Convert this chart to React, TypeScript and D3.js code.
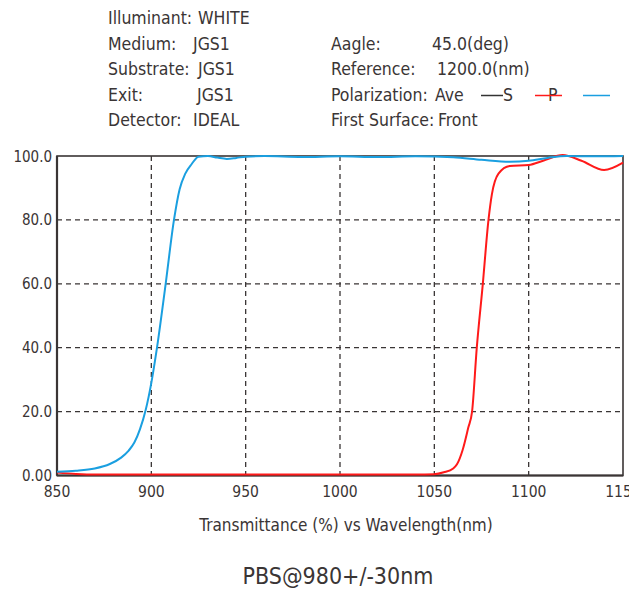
import React from "react";
import * as d3 from "d3";

const xTicks = [850, 900, 950, 1000, 1050, 1100, 1150];
const yTicks = [0, 20, 40, 60, 80, 100];
const yTickLabels = ["0.00", "20.0", "40.0", "60.0", "80.0", "100.0"];

const blueWl = [850, 860, 870, 878, 884, 888, 891, 894, 897, 900, 903, 907.6, 912, 915, 918, 921.4, 925, 930, 935, 940, 945, 950, 960, 980, 1000, 1020, 1040, 1060, 1075, 1090, 1100, 1110, 1120, 1135, 1150];
const blueT = [1.2, 1.5, 2.2, 3.6, 5.6, 7.8, 10.3, 14.5, 20.5, 29, 40, 60, 80, 89.6, 94.5, 97.5, 99.8, 100, 99.5, 99.1, 99.4, 99.8, 100, 99.7, 99.9, 99.7, 99.9, 99.6, 98.8, 98.2, 98.5, 99.4, 100, 99.9, 100];

const redWl = [850, 860, 870, 900, 950, 1000, 1040, 1050, 1055, 1060, 1062, 1065, 1068, 1070, 1072.5, 1075.7, 1078.7, 1080.5, 1084, 1090, 1100, 1108, 1118, 1128, 1140, 1150];
const redT = [0.9, 0.5, 0.3, 0.3, 0.3, 0.3, 0.3, 0.4, 1.0, 2.2, 3.5, 8, 15, 20, 40, 60, 80, 88, 94.5, 96.9, 97.2, 98.6, 100.3, 98.5, 95.6, 97.9];

const headerLeft = [
  ["Illuminant:", "WHITE", 198],
  ["Medium:", "JGS1", 193],
  ["Substrate:", "JGS1", 198],
  ["Exit:", "JGS1", 197],
  ["Detector:", "IDEAL", 193],
];
const headerRight = [
  ["Aagle:", "45.0(deg)", 432],
  ["Reference:", "1200.0(nm)", 437],
  ["Polarization:", "Ave", 435],
  ["First Surface:", "Front", 438],
];

const FONT = "'Liberation Sans Narrow', 'DejaVu Sans Condensed', 'Roboto', sans-serif";
const TXT = "#3a3535";

export default function App() {
  const W = 629, H = 595;
  const left = 57, right = 623, top = 156, bottom = 475.5;
  const x = d3.scaleLinear().domain([850, 1150]).range([left, right]);
  const y = d3.scaleLinear().domain([0, 100]).range([bottom, top]);
  const line = d3.line<number>().curve(d3.curveMonotoneX);
  const bluePath = line(blueWl.map((w, i) => [x(w), y(blueT[i])] as any) as any);
  const redPath = line(redWl.map((w, i) => [x(w), y(redT[i])] as any) as any);

  return (
    <svg width={W} height={H} style={{ position: "absolute", left: 0, top: 0, background: "#fff" }} fontFamily={FONT}>
      <rect x={0} y={0} width={W} height={H} fill="#fff" />
      {headerLeft.map((r, i) => (
        <g key={"hl" + i}>
          <text x={108} y={24 + i * 25.6} fontSize={17.5} fill={TXT}>{r[0]}</text>
          <text x={r[2] as number} y={24 + i * 25.6} fontSize={17.5} fill={TXT}>{r[1]}</text>
        </g>
      ))}
      {headerRight.map((r, i) => (
        <g key={"hr" + i}>
          <text x={331} y={49.6 + i * 25.6} fontSize={17.5} fill={TXT}>{r[0]}</text>
          <text x={r[2] as number} y={49.6 + i * 25.6} fontSize={17.5} fill={TXT}>{r[1]}</text>
        </g>
      ))}
      {/* legend */}
      <line x1={481} x2={503} y1={95.5} y2={95.5} stroke="#333" strokeWidth={1.5} />
      <text x={503} y={100.8} fontSize={17.5} fill={TXT}>S</text>
      <text x={548} y={100.8} fontSize={17.5} fill={TXT}>P</text>
      <line x1={535} x2={562} y1={95.5} y2={95.5} stroke="#ff1a1a" strokeWidth={1.5} />
      <line x1={583} x2={610} y1={95.5} y2={95.5} stroke="#1a9fe0" strokeWidth={1.5} />

      {/* grid */}
      {xTicks.slice(1, -1).map((t) => (
        <line key={"gx" + t} x1={x(t)} x2={x(t)} y1={top} y2={bottom} stroke="#3a3535" strokeWidth={1.3} strokeDasharray="5,4" />
      ))}
      {yTicks.slice(1, -1).map((t) => (
        <line key={"gy" + t} x1={left} x2={right} y1={y(t)} y2={y(t)} stroke="#3a3535" strokeWidth={1.3} strokeDasharray="5,4" />
      ))}
      <rect x={left} y={top} width={right - left} height={bottom - top} fill="none" stroke="#3a3535" strokeWidth={1.6} />
      <line x1={left} x2={left} y1={top} y2={bottom} stroke="#3a3535" strokeWidth={2.2} />
      <line x1={left} x2={right} y1={bottom} y2={bottom} stroke="#3a3535" strokeWidth={2.2} />

      <path d={redPath || ""} fill="none" stroke="#ff1a1a" strokeWidth={2} />
      <path d={bluePath || ""} fill="none" stroke="#1a9fe0" strokeWidth={2} />

      {yTicks.map((t, i) => (
        <text key={"yl" + t} x={52} y={y(t) + 5.5} fontSize={15} fill={TXT} textAnchor="end">{yTickLabels[i]}</text>
      ))}
      {xTicks.map((t) => (
        <text key={"xl" + t} x={x(t)} y={497} fontSize={15.5} fill={TXT} textAnchor="middle">{t}</text>
      ))}
      <text x={346} y={531} fontSize={17} fill={TXT} textAnchor="middle">Transmittance (%) vs Wavelength(nm)</text>
      <text x={338} y={584} fontSize={23} fill={TXT} textAnchor="middle">PBS@980+/-30nm</text>
    </svg>
  );
}
